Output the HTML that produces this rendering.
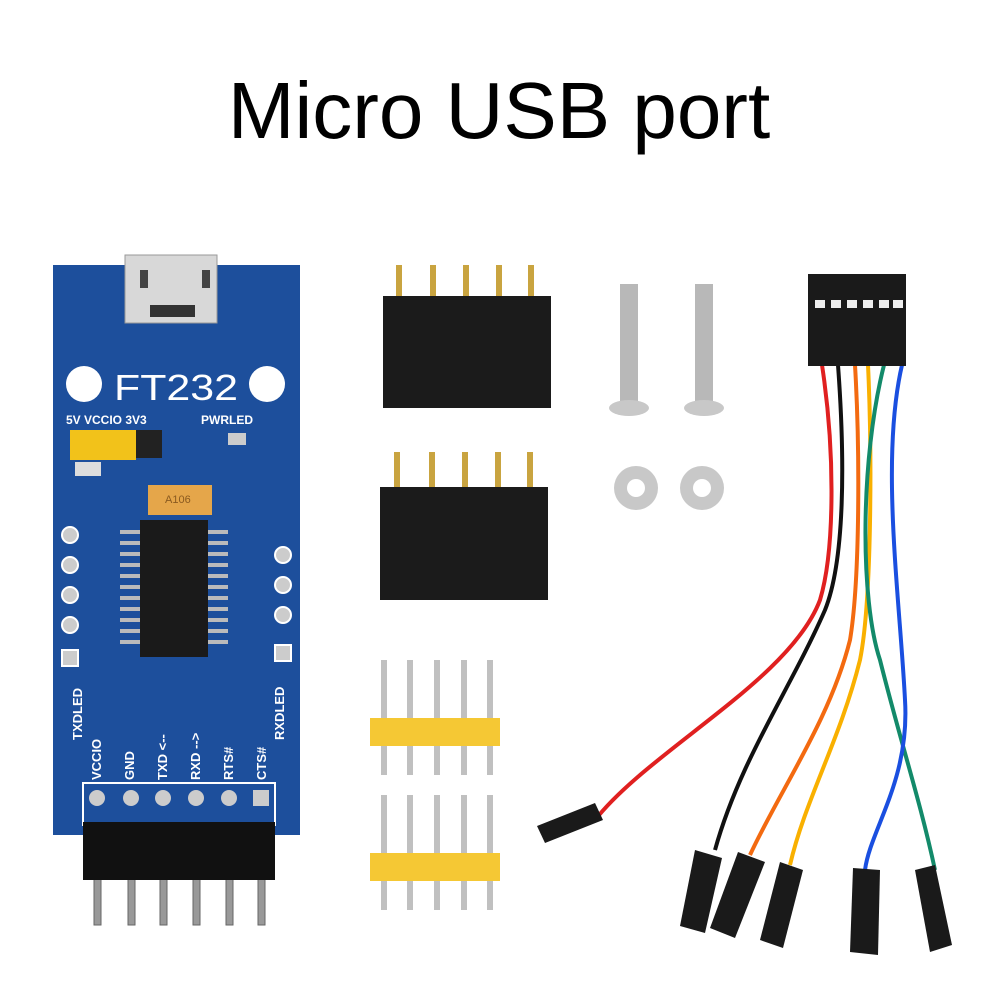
<!DOCTYPE html>
<html><head><meta charset="utf-8"><style>
html,body{margin:0;padding:0;background:#fff;}
svg{display:block;}
text{font-family:"Liberation Sans",sans-serif;}
</style></head><body>
<svg width="1000" height="1000" viewBox="0 0 1000 1000" xmlns="http://www.w3.org/2000/svg">
<rect width="1000" height="1000" fill="#fff"/>
<text x="499" y="138" font-size="80" text-anchor="middle" fill="#000">Micro USB port</text>

<!-- board bottom header pins -->
<g fill="#999" stroke="#666" stroke-width="1">
<rect x="94" y="820" width="7" height="105"/><rect x="128" y="820" width="7" height="105"/>
<rect x="160" y="820" width="7" height="105"/><rect x="193" y="820" width="7" height="105"/>
<rect x="226" y="820" width="7" height="105"/><rect x="258" y="820" width="7" height="105"/>
</g>
<!-- board -->
<rect x="53" y="265" width="247" height="570" fill="#1d4f9c"/>
<rect x="83" y="783" width="192" height="42" fill="none" stroke="#fff" stroke-width="2"/>
<rect x="83" y="822" width="192" height="58" fill="#111"/>
<!-- usb -->
<rect x="125" y="255" width="92" height="68" fill="#d8d8d8" stroke="#999"/>
<rect x="140" y="270" width="8" height="18" fill="#444"/><rect x="202" y="270" width="8" height="18" fill="#444"/>
<rect x="150" y="305" width="45" height="12" fill="#333"/>
<!-- holes -->
<circle cx="84" cy="384" r="18" fill="#fff"/><circle cx="267" cy="384" r="18" fill="#fff"/>
<text x="176" y="400" font-size="36" fill="#fff" text-anchor="middle" textLength="124" lengthAdjust="spacingAndGlyphs">FT232</text>
<text x="66" y="424" font-size="12" fill="#fff" font-weight="bold">5V VCCIO 3V3</text>
<text x="201" y="424" font-size="12" fill="#fff" font-weight="bold">PWRLED</text>
<!-- jumper -->
<rect x="70" y="430" width="66" height="30" fill="#f2c21a"/>
<rect x="136" y="430" width="26" height="28" fill="#222"/>
<rect x="228" y="433" width="18" height="12" fill="#ccc"/>
<rect x="75" y="462" width="26" height="14" fill="#ddd"/>
<rect x="148" y="485" width="64" height="30" fill="#e5a64a"/>
<text x="165" y="503" font-size="11" fill="#8a5a20">A106</text>
<!-- chip -->
<rect x="140" y="520" width="68" height="137" fill="#1a1a1a"/>
<g fill="#bbb">
<rect x="120" y="530" width="20" height="4"/><rect x="120" y="541" width="20" height="4"/><rect x="120" y="552" width="20" height="4"/><rect x="120" y="563" width="20" height="4"/><rect x="120" y="574" width="20" height="4"/><rect x="120" y="585" width="20" height="4"/><rect x="120" y="596" width="20" height="4"/><rect x="120" y="607" width="20" height="4"/><rect x="120" y="618" width="20" height="4"/><rect x="120" y="629" width="20" height="4"/><rect x="120" y="640" width="20" height="4"/>
<rect x="208" y="530" width="20" height="4"/><rect x="208" y="541" width="20" height="4"/><rect x="208" y="552" width="20" height="4"/><rect x="208" y="563" width="20" height="4"/><rect x="208" y="574" width="20" height="4"/><rect x="208" y="585" width="20" height="4"/><rect x="208" y="596" width="20" height="4"/><rect x="208" y="607" width="20" height="4"/><rect x="208" y="618" width="20" height="4"/><rect x="208" y="629" width="20" height="4"/><rect x="208" y="640" width="20" height="4"/>
</g>
<!-- side pads -->
<g fill="#ccc" stroke="#fff" stroke-width="2">
<circle cx="70" cy="535" r="8"/><circle cx="70" cy="565" r="8"/><circle cx="70" cy="595" r="8"/><circle cx="70" cy="625" r="8"/><rect x="62" y="650" width="16" height="16"/>
<circle cx="283" cy="555" r="8"/><circle cx="283" cy="585" r="8"/><circle cx="283" cy="615" r="8"/><rect x="275" y="645" width="16" height="16"/>
</g>
<g fill="#fff" font-size="13" font-weight="bold">
<text transform="translate(82,740) rotate(-90)">TXDLED</text>
<text transform="translate(284,740) rotate(-90)">RXDLED</text>
<text transform="translate(101,780) rotate(-90)">VCCIO</text>
<text transform="translate(134,780) rotate(-90)">GND</text>
<text transform="translate(167,780) rotate(-90)">TXD &lt;--</text>
<text transform="translate(200,780) rotate(-90)">RXD --&gt;</text>
<text transform="translate(233,780) rotate(-90)">RTS#</text>
<text transform="translate(266,780) rotate(-90)">CTS#</text>
</g>
<g fill="#ccc"><circle cx="97" cy="798" r="8"/><circle cx="131" cy="798" r="8"/><circle cx="163" cy="798" r="8"/><circle cx="196" cy="798" r="8"/><circle cx="229" cy="798" r="8"/><rect x="253" y="790" width="16" height="16"/></g>

<!-- female headers -->
<g fill="#c9a440"><rect x="396" y="265" width="6" height="32"/><rect x="430" y="265" width="6" height="32"/><rect x="463" y="265" width="6" height="32"/><rect x="496" y="265" width="6" height="32"/><rect x="528" y="265" width="6" height="32"/>
<rect x="394" y="452" width="6" height="35"/><rect x="429" y="452" width="6" height="35"/><rect x="462" y="452" width="6" height="35"/><rect x="495" y="452" width="6" height="35"/><rect x="527" y="452" width="6" height="35"/></g>
<rect x="383" y="296" width="168" height="112" fill="#1b1b1b"/>
<rect x="380" y="487" width="168" height="113" fill="#1b1b1b"/>
<!-- screws -->
<rect x="620" y="284" width="18" height="120" fill="#b8b8b8"/><ellipse cx="629" cy="408" rx="20" ry="8" fill="#c8c8c8"/>
<rect x="695" y="284" width="18" height="120" fill="#b8b8b8"/><ellipse cx="704" cy="408" rx="20" ry="8" fill="#c8c8c8"/>
<!-- nuts -->
<circle cx="636" cy="488" r="22" fill="#c8c8c8"/><circle cx="636" cy="488" r="9" fill="#fff"/>
<circle cx="702" cy="488" r="22" fill="#c8c8c8"/><circle cx="702" cy="488" r="9" fill="#fff"/>

<!-- male headers -->
<g fill="#c0c0c0"><rect x="381" y="660" width="6" height="115"/><rect x="407" y="660" width="6" height="115"/><rect x="434" y="660" width="6" height="115"/><rect x="461" y="660" width="6" height="115"/><rect x="487" y="660" width="6" height="115"/>
<rect x="381" y="795" width="6" height="115"/><rect x="407" y="795" width="6" height="115"/><rect x="434" y="795" width="6" height="115"/><rect x="461" y="795" width="6" height="115"/><rect x="487" y="795" width="6" height="115"/></g>
<rect x="370" y="718" width="130" height="28" fill="#f5c834"/>
<rect x="370" y="853" width="130" height="28" fill="#f5c834"/>

<!-- wires -->
<g fill="none" stroke-width="4">
<path d="M822 365 C835 450 835 550 820 600 C790 680 650 750 595 820" stroke="#e02020"/>
<path d="M838 365 C845 460 845 560 825 610 C790 690 740 760 715 850" stroke="#111"/>
<path d="M855 365 C860 450 860 580 850 640 C830 720 780 790 750 855" stroke="#f36a10"/>
<path d="M868 365 C872 450 872 600 860 660 C840 740 805 800 790 865" stroke="#f9b000"/>
<path d="M884 365 C860 460 860 600 880 660 C900 740 920 800 935 870" stroke="#138a6a"/>
<path d="M902 365 C880 460 900 600 905 700 C910 780 870 830 865 870" stroke="#1a4fe0"/>
</g>
<rect x="808" y="274" width="98" height="92" fill="#1a1a1a"/>
<g fill="#eee"><rect x="815" y="300" width="10" height="8"/><rect x="831" y="300" width="10" height="8"/><rect x="847" y="300" width="10" height="8"/><rect x="863" y="300" width="10" height="8"/><rect x="879" y="300" width="10" height="8"/><rect x="893" y="300" width="10" height="8"/></g>
<!-- wire end connectors -->
<g fill="#1a1a1a">
<polygon points="537,826 595,803 603,820 545,843"/>
<polygon points="695,850 722,858 705,933 680,926"/>
<polygon points="738,852 765,862 735,938 710,928"/>
<polygon points="780,862 803,870 783,948 760,940"/>
<polygon points="853,868 880,870 878,955 850,952"/>
<polygon points="915,870 935,865 952,945 930,952"/>
</g>
</svg>
</body></html>
